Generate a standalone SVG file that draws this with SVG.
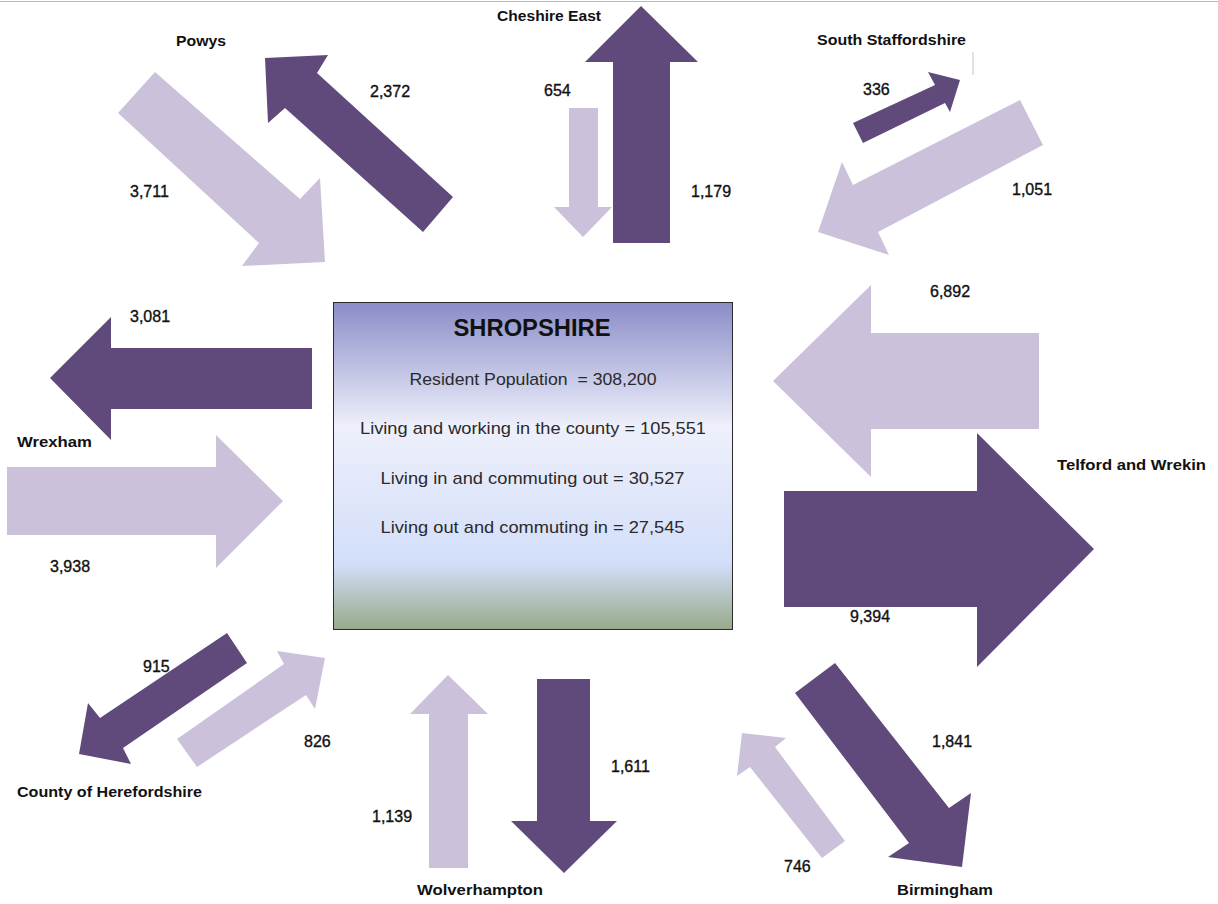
<svg xmlns="http://www.w3.org/2000/svg" width="1218" height="904" viewBox="0 0 1218 904">
  <style>
    .dark { fill: #604A7B; }
    .light { fill: #CCC1DA; }
    .num { font-family: "Liberation Sans", Arial, sans-serif; font-size: 16px; fill: #111; stroke: #111; stroke-width: 0.35; }
    .place { font-family: "Liberation Sans", Arial, sans-serif; font-size: 15px; font-weight: bold; fill: #111; }
    .title { font-family: "Liberation Sans", Arial, sans-serif; font-size: 24px; font-weight: bold; fill: #111; }
    .info { font-family: "Liberation Sans", Arial, sans-serif; font-size: 17px; fill: #2a2a2a; white-space: pre; }
  </style>
  <defs>
    <linearGradient id="boxGrad" x1="0" y1="0" x2="0" y2="1">
      <stop offset="0" stop-color="#8A8DC8"/>
      <stop offset="0.38" stop-color="#EEF0FB"/>
      <stop offset="0.8" stop-color="#D2DEF9"/>
      <stop offset="1" stop-color="#98A98A"/>
    </linearGradient>
  </defs>
  <rect x="0" y="0" width="1218" height="904" fill="#ffffff"/>
  <line x1="0" y1="1.5" x2="1218" y2="1.5" stroke="#b8b8b8" stroke-width="1"/>
  <line x1="973" y1="52" x2="973" y2="75" stroke="#c4c4c4" stroke-width="1"/>

  <g id="connectors">
    <!-- Powys -->
    <polygon class="light" points="155,72 300,199 320,178 325,262 242,266 259,243 118,113"/>
    <polygon class="dark" points="265,58 328,55 317,73 453,197 423,232 285,108 268,123"/>
    <!-- Cheshire East -->
    <polygon class="dark" points="641,6 698,62 670,62 670,243 613,243 613,62 585,62"/>
    <polygon class="light" points="569,108 598,108 598,207 612,207 583,237 554,207 569,207"/>
    <!-- South Staffordshire -->
    <polygon class="dark" points="853,123 935,85 928,72 960,80 950,112 945,103 863,143"/>
    <polygon class="light" points="1020,100 1043,145 878,232 889,255 818,232 842,162 853,185"/>
    <!-- Telford and Wrekin -->
    <polygon class="light" points="773,381 871,285 871,333 1039,333 1039,429 871,429 871,477"/>
    <polygon class="dark" points="784,491 977,491 977,433 1094,549 977,667 977,607 784,607"/>
    <!-- Wrexham -->
    <polygon class="dark" points="50,378 111,317 111,348 312,348 312,409 111,409 111,440"/>
    <polygon class="light" points="7,467 216,467 216,435 283,501 216,568 216,535 7,535"/>
    <!-- County of Herefordshire -->
    <polygon class="dark" points="227,633 247,663 123,748 131,764 79,754 88,703 100,718"/>
    <polygon class="light" points="177,739 284,664 277,651 325,658 315,709 306,695 197,767"/>
    <!-- Wolverhampton -->
    <polygon class="light" points="448,675 488,714 468,714 468,868 429,868 429,714 410,714"/>
    <polygon class="dark" points="537,679 590,679 590,821 617,821 564,873 511,821 537,821"/>
    <!-- Birmingham -->
    <polygon class="dark" points="795,693 835,663 949,808 971,793 962,867 888,857 909,843"/>
    <polygon class="light" points="845,841 822,858 750,767 737,776 742,733 786,738 775,747"/>

    <text class="num" x="130" y="197">3,711</text>
    <text class="num" x="370" y="97">2,372</text>
    <text class="num" x="544" y="96">654</text>
    <text class="num" x="691" y="197">1,179</text>
    <text class="num" x="863" y="95">336</text>
    <text class="num" x="1012" y="195">1,051</text>
    <text class="num" x="930" y="297">6,892</text>
    <text class="num" x="130" y="322">3,081</text>
    <text class="num" x="50" y="572">3,938</text>
    <text class="num" x="850" y="622">9,394</text>
    <text class="num" x="143" y="672">915</text>
    <text class="num" x="304" y="747">826</text>
    <text class="num" x="372" y="822">1,139</text>
    <text class="num" x="611" y="772">1,611</text>
    <text class="num" x="932" y="747">1,841</text>
    <text class="num" x="784" y="872">746</text>
  </g>

  <g id="shropshire">
    <rect x="333.5" y="302.5" width="399" height="327" fill="url(#boxGrad)" stroke="#2b2b2b" stroke-width="1"/>
    <text class="title" x="532" y="336" text-anchor="middle" textLength="157" lengthAdjust="spacingAndGlyphs">SHROPSHIRE</text>
    <text class="info" x="533" y="385" text-anchor="middle" textLength="247" lengthAdjust="spacingAndGlyphs" xml:space="preserve">Resident Population  = 308,200</text>
    <text class="info" x="533" y="434" text-anchor="middle" textLength="346" lengthAdjust="spacingAndGlyphs">Living and working in the county = 105,551</text>
    <text class="info" x="532.5" y="484" text-anchor="middle" textLength="304" lengthAdjust="spacingAndGlyphs">Living in and commuting out = 30,527</text>
    <text class="info" x="532.5" y="533" text-anchor="middle" textLength="304" lengthAdjust="spacingAndGlyphs">Living out and commuting in = 27,545</text>
  </g>

  <g id="powys"><text class="place" x="176" y="46" textLength="50" lengthAdjust="spacingAndGlyphs">Powys</text></g>
  <g id="cheshire-east"><text class="place" x="497" y="21" textLength="104" lengthAdjust="spacingAndGlyphs">Cheshire East</text></g>
  <g id="south-staffordshire"><text class="place" x="817" y="45" textLength="149" lengthAdjust="spacingAndGlyphs">South Staffordshire</text></g>
  <g id="telford-and-wrekin"><text class="place" x="1057" y="470" textLength="149" lengthAdjust="spacingAndGlyphs">Telford and Wrekin</text></g>
  <g id="wrexham"><text class="place" x="17" y="447" textLength="75" lengthAdjust="spacingAndGlyphs">Wrexham</text></g>
  <g id="county-of-herefordshire"><text class="place" x="17" y="797" textLength="185" lengthAdjust="spacingAndGlyphs">County of Herefordshire</text></g>
  <g id="wolverhampton"><text class="place" x="417" y="895" textLength="126" lengthAdjust="spacingAndGlyphs">Wolverhampton</text></g>
  <g id="birmingham"><text class="place" x="897" y="895" textLength="96" lengthAdjust="spacingAndGlyphs">Birmingham</text></g>
</svg>
